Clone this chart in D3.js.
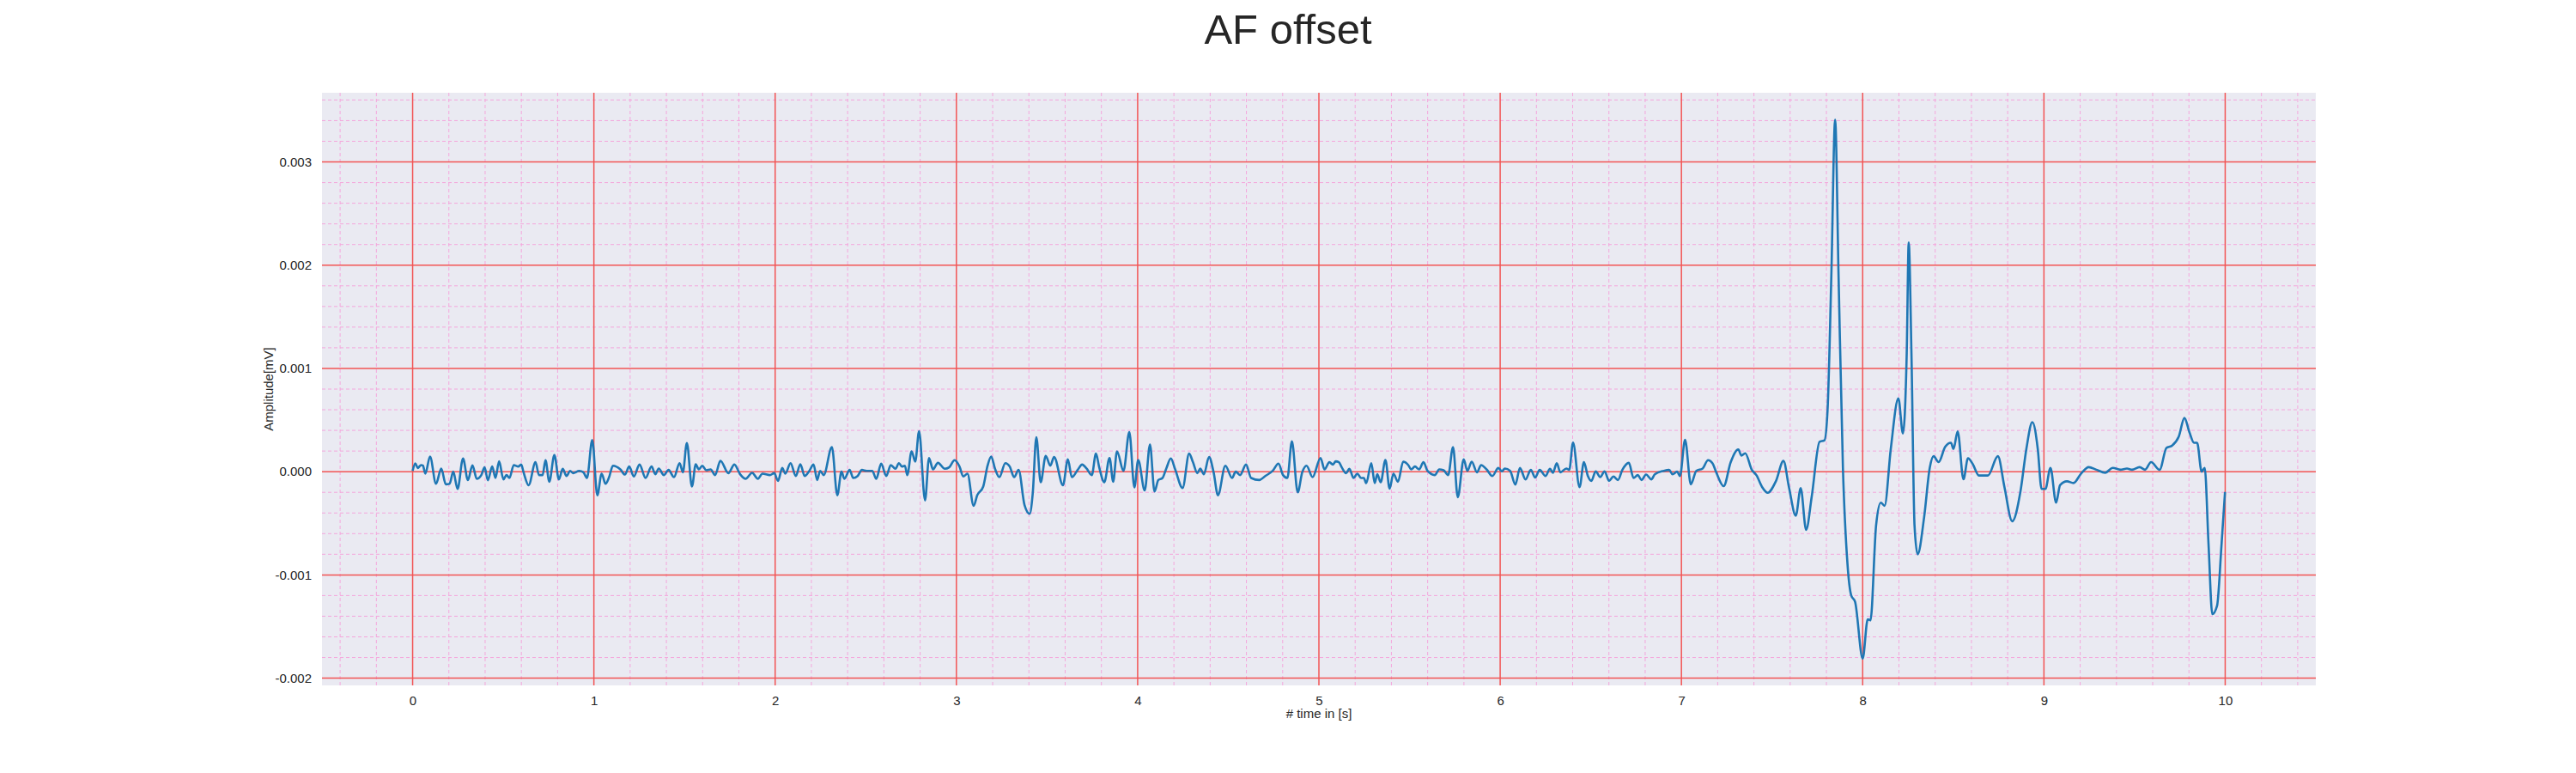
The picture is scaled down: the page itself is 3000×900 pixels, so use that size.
<!DOCTYPE html>
<html><head><meta charset="utf-8">
<script src="https://cdn.jsdelivr.net/npm/d3@7"></script>
<style>body{margin:0;background:#fff}svg{display:block}</style>
</head><body>
<script>
const title = "AF offset";
const xLabel = "# time in [s]";
const yLabel = "Amplitude[mV]";
const xTicks = [0,1,2,3,4,5,6,7,8,9,10];
const yTicks = [-0.002,-0.001,0,0.001,0.002,0.003];
// time (s)
const times = [0.000,0.015,0.028,0.047,0.057,0.070,0.096,0.129,0.158,0.183,0.204,0.224,0.248,0.278,0.305,0.330,0.354,0.379,0.397,0.415,0.439,0.457,0.477,0.501,0.518,0.534,0.558,0.583,0.599,0.612,0.640,0.678,0.697,0.717,0.733,0.754,0.782,0.807,0.828,0.849,0.869,0.885,0.919,0.942,0.962,0.991,1.019,1.043,1.064,1.084,1.105,1.146,1.171,1.195,1.220,1.252,1.285,1.318,1.339,1.358,1.386,1.412,1.442,1.473,1.491,1.513,1.541,1.562,1.579,1.598,1.620,1.644,1.669,1.698,1.742,1.775,1.807,1.837,1.873,1.905,1.930,1.971,1.995,2.016,2.039,2.056,2.085,2.114,2.139,2.163,2.186,2.212,2.232,2.248,2.268,2.313,2.343,2.366,2.382,2.411,2.431,
2.455,2.479,2.504,2.536,2.558,2.585,2.613,2.638,2.664,2.683,2.699,2.716,2.729,2.753,2.773,2.794,2.827,2.849,2.871,2.898,2.936,2.960,2.990,3.017,3.038,3.061,3.095,3.115,3.148,3.172,3.192,3.213,3.237,3.270,3.294,3.319,3.343,3.376,3.404,3.421,3.441,3.465,3.493,3.518,3.539,3.588,3.615,3.637,3.669,3.694,3.718,3.747,3.770,3.788,3.816,3.845,3.865,3.886,3.922,3.954,3.982,4.003,4.039,4.068,4.093,4.114,4.137,4.158,4.183,4.207,4.248,4.284,4.305,4.329,4.345,4.365,4.394,4.419,4.443,4.484,4.521,4.541,4.565,4.598,4.626,4.671,4.704,4.745,4.777,4.802,4.826,4.851,4.883,4.908,4.932,4.965,
5.009,5.031,5.058,5.077,5.093,5.110,5.126,5.150,5.168,5.191,5.212,5.232,5.248,5.261,5.289,5.308,5.322,5.341,5.367,5.390,5.411,5.436,5.465,5.493,5.509,5.530,5.553,5.577,5.599,5.639,5.664,5.688,5.713,5.740,5.766,5.799,5.819,5.843,5.872,5.895,5.925,5.957,5.990,6.009,6.026,6.055,6.084,6.109,6.140,6.169,6.193,6.218,6.250,6.275,6.291,6.312,6.332,6.365,6.381,6.402,6.438,6.462,6.484,6.503,6.527,6.552,6.576,6.601,6.625,6.650,6.674,6.710,6.736,6.759,6.780,6.805,6.834,6.853,6.902,6.932,6.951,6.976,6.992,7.020,7.052,7.082,7.117,7.147,7.171,7.192,
7.233,7.272,7.314,7.331,7.352,7.388,7.415,7.445,7.476,7.521,7.563,7.593,7.631,7.658,7.688,7.719,7.762,7.789,7.806,7.827,7.848,7.867,7.891,7.916,7.937,7.958,8.000,8.028,8.043,8.074,8.100,8.121,8.155,8.197,8.222,8.243,8.254,8.269,8.286,8.303,8.339,8.370,8.391,8.419,8.455,8.487,8.501,8.524,8.556,8.581,8.607,8.641,8.691,8.746,8.782,8.825,8.871,8.903,8.936,8.966,8.987,9.008,9.036,9.067,9.089,9.127,9.163,9.205,9.247,9.289,9.338,9.380,9.422,9.458,9.486,9.528,9.558,9.591,9.638,9.676,9.705,9.744,9.775,9.803,9.828,9.845,9.870,9.887,9.908,9.929,9.955,9.980,9.999];
// amplitude in units of 1e-4 mV
const amps = [0.08,0.81,0.36,0.64,0.58,-0.19,1.47,-1.17,0.31,-1.22,-1.17,0,-1.67,1.28,-0.81,0.61,-0.69,-0.33,0.42,-0.83,0.5,-0.61,1.0,-0.75,-0.33,-0.61,0.64,0.5,0.69,-0.06,-1.31,0.92,-0.33,-0.33,1.11,-0.97,1.61,-0.75,0.28,-0.42,0.08,-0.14,0.08,-0.06,-0.61,3.06,-2.28,-0.19,-1.17,-0.53,0.58,0.22,-0.28,0.5,-0.47,0.69,-0.61,0.5,-0.25,0.31,-0.33,0.17,-0.53,0.83,-0.06,2.78,-1.44,0.72,0.22,0.58,0.14,0.22,-0.33,1.06,-0.14,0.69,-0.25,-0.69,-0.11,-0.69,-0.19,-0.33,-0.14,-0.89,0.36,-0.19,0.83,-0.42,0.72,-0.42,0,0.69,-0.81,0.08,-0.33,2.39,-2.28,0,-0.69,0.17,-0.61,
-0.42,0.17,0.08,0.08,-0.69,0.78,-0.42,0.64,0.28,0.83,0.5,0.58,-0.33,1.97,0.97,3.92,-2.78,1.33,0.22,0.86,0.28,0.42,1.11,0.5,-0.47,-0.19,-3.31,-2.28,-1.44,0.58,1.47,0.28,-0.53,0.83,0.5,-0.53,0.17,-3.25,-4.08,-2.14,3.33,-1.03,1.53,0.58,1.42,-1.31,1.19,-0.53,0.17,0.69,0.31,-0.33,1.75,0.42,-1.03,1.33,-0.97,1.97,0.08,3.83,-1.53,1.14,-1.81,2.64,-1.92,-0.81,-0.61,0.31,1.28,0.22,-1.58,1.75,0.92,-0.14,0.31,-0.25,1.42,-0.06,-2.28,0.58,-0.61,0,-0.33,0.69,-0.61,-0.81,-0.42,0.08,0.78,-0.33,-0.61,2.94,-2.0,-0.06,0.58,-0.53,
1.33,0.22,0.92,0.69,1.0,0.92,0.42,-0.14,0.28,-0.61,-0.19,-0.61,-0.61,-1.11,0.83,-1.11,-0.25,-1.03,1.14,-1.64,-0.19,-0.97,0.97,0.64,0.22,0.5,0.22,0.92,0.08,-0.33,0.22,0.14,-0.33,2.39,-2.47,1.19,0.08,0.97,-0.06,0.64,0.22,-0.42,0.36,0.03,0.31,0.08,-1.25,0.36,-0.75,0.17,-0.56,0.17,-0.42,0.28,-0.11,0.83,-0.06,0.31,0.17,2.81,-1.5,0.92,-0.42,-0.89,0.03,-0.53,0.03,-0.89,-0.47,-0.81,0.17,0.86,-0.61,-0.33,-0.81,-0.28,-0.75,-0.25,0.08,0.17,-0.25,0,-0.42,3.08,-1.22,0.08,0.31,1.11,0.83,-0.06,
-1.4,0.93,2.15,1.56,1.78,0.19,-0.37,-1.48,-2.04,-0.93,1.04,-1.48,-4.26,-1.6,-5.63,-2.4,2.89,3.04,5.9,18.9,34.1,18.9,0.37,-8.9,-12.0,-12.6,-18.1,-14.3,-14.4,-5.2,-3.0,-3.3,2.2,7.1,3.7,11.5,22.2,11.5,-5.2,-8.0,-4.4,0.37,1.5,0.93,2.4,2.8,2.2,3.9,-0.74,1.3,0.74,-0.37,-0.37,1.5,-1.48,-4.8,-1.85,2.2,4.8,2.2,-1.67,-1.67,0.37,-3.0,-1.3,-0.93,-1.1,-0.18,0.44,0.19,-0.1,0.37,0.19,0.3,0.19,0.44,0.19,0.93,0.18,2.3,2.5,3.4,5.2,3.8,2.8,2.8,0,0.37,-7.0,-13.8,-13.0,-7.0,-1.96];

const W=3000,H=900, L=375, R=2697, T=108, B=798;
const svg=d3.select("body").append("svg").attr("width",W).attr("height",H).style("font-family","'Liberation Sans', Arial, sans-serif");
const data=times.map((t,i)=>({t, v:amps[i]*1e-4}));
const x=d3.scaleLinear().domain([-0.5,10.5]).range([L,R]);
const y=d3.scaleLinear().domain([-0.00207,0.00367]).range([B,T]);
svg.append("rect").attr("x",L).attr("y",T).attr("width",R-L).attr("height",B-T).attr("fill","#eaeaf2");
const g=svg.append("g");
const minorX=d3.range(-0.4,10.5,0.2).filter(v=>Math.abs(v-Math.round(v))>1e-6);
const minorY=d3.range(-0.002,0.0037,0.0002).filter(v=>Math.abs(v*1000-Math.round(v*1000))>1e-6);
g.selectAll(".mx").data(minorX).join("line").attr("x1",d=>x(d)).attr("x2",d=>x(d)).attr("y1",T).attr("y2",B).attr("stroke","#f4a6dc").attr("stroke-width",1).attr("stroke-dasharray","4,3");
g.selectAll(".my").data(minorY).join("line").attr("y1",d=>y(d)).attr("y2",d=>y(d)).attr("x1",L).attr("x2",R).attr("stroke","#f4a6dc").attr("stroke-width",1).attr("stroke-dasharray","4,3");
g.selectAll(".Mx").data(xTicks).join("line").attr("x1",d=>x(d)).attr("x2",d=>x(d)).attr("y1",T).attr("y2",B).attr("stroke","#f25454").attr("stroke-width",1.5);
g.selectAll(".My").data(yTicks).join("line").attr("y1",d=>y(d)).attr("y2",d=>y(d)).attr("x1",L).attr("x2",R).attr("stroke","#f25454").attr("stroke-width",1.5);
const fmt=d3.format(".3f");
const xa=svg.append("g").attr("transform",`translate(0,${B})`).call(d3.axisBottom(x).tickValues(xTicks).tickFormat(d3.format("d")).tickSize(0).tickPadding(12));
const ya=svg.append("g").attr("transform",`translate(${L},0)`).call(d3.axisLeft(y).tickValues(yTicks).tickFormat(d=>fmt(d).replace("\u2212","-")).tickSize(0).tickPadding(12));
[xa,ya].forEach(a=>{a.select(".domain").remove();a.selectAll("text").attr("font-size",15).attr("fill","#262626").attr("font-family","'Liberation Sans', Arial, sans-serif");});
svg.append("path").datum(data).attr("fill","none").attr("stroke","#1f77b4").attr("stroke-width",2.6).attr("d",d3.line().x(d=>x(d.t)).y(d=>y(d.v)).curve(d3.curveMonotoneX));
svg.append("text").attr("x",W/2).attr("y",38).attr("text-anchor","middle").attr("dominant-baseline","middle").attr("font-size",49).attr("fill","#262626").text(title);
svg.append("text").attr("x",(L+R)/2).attr("y",836).attr("text-anchor","middle").attr("font-size",15).attr("fill","#262626").text(xLabel);
svg.append("text").attr("transform",`translate(318,${(T+B)/2}) rotate(-90)`).attr("text-anchor","middle").attr("font-size",15).attr("fill","#262626").text(yLabel);
</script></body></html>
